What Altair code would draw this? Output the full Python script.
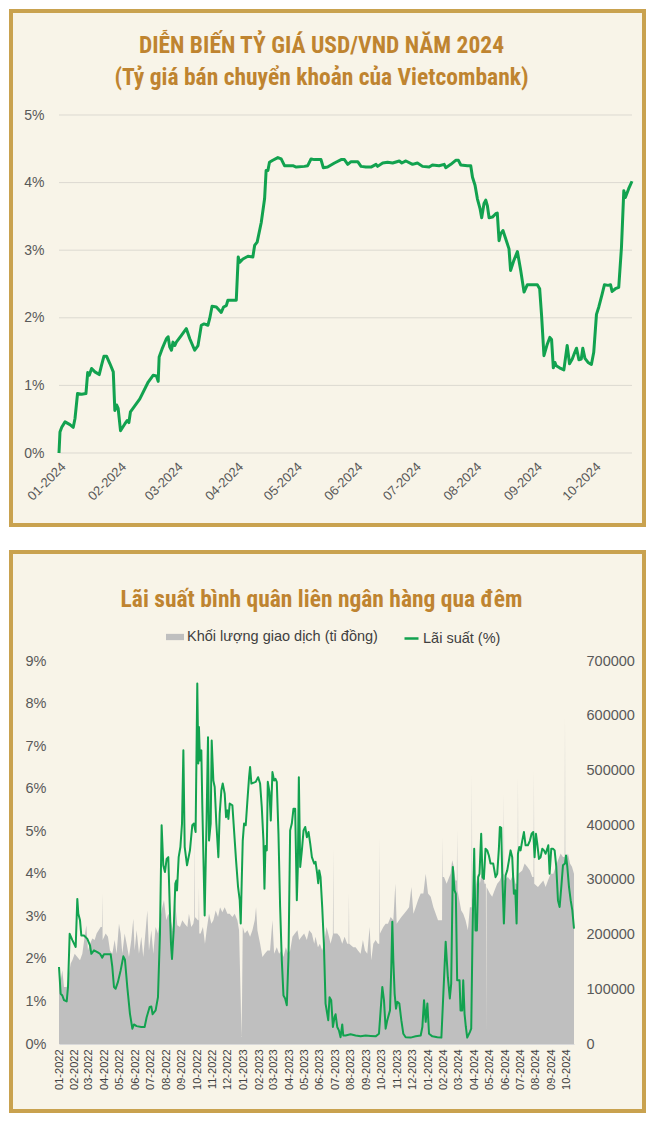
import altair as alt
import pandas as pd

# ---------------- Panel 1: USD/VND change in 2024 (day offset from 2024-01-01, % change)
fx_points = [
    (0.0, 0.00), (0.5, 0.31), (1.4, 0.38), (3.1, 0.46), (5.6, 0.42), (7.3, 0.38), (8.2, 0.51),
    (9.5, 0.88), (11.6, 0.87), (13.8, 0.88), (14.7, 1.19), (15.5, 1.15), (16.7, 1.25), (18.4, 1.20),
    (20.6, 1.16), (21.8, 1.30), (23.0, 1.43), (24.4, 1.43), (26.1, 1.32), (27.8, 1.20), (28.6, 0.63),
    (29.5, 0.71), (30.3, 0.66), (31.5, 0.33), (33.7, 0.43), (34.9, 0.48), (35.8, 0.45), (36.6, 0.61),
    (41.4, 0.80), (45.7, 1.05), (48.2, 1.15), (49.9, 1.14), (50.8, 1.06), (51.3, 1.42), (52.8, 1.54),
    (55.0, 1.69), (55.9, 1.72), (56.7, 1.57), (57.6, 1.52), (58.4, 1.64), (59.3, 1.59), (60.1, 1.64),
    (62.7, 1.74), (65.2, 1.84), (67.0, 1.69), (69.5, 1.52), (71.2, 1.59), (72.9, 1.89), (74.3, 1.91),
    (76.3, 1.89), (77.2, 1.99), (78.4, 2.17), (80.6, 2.16), (83.1, 2.08), (84.3, 2.16), (85.7, 2.18),
    (86.5, 2.26), (90.8, 2.26), (91.8, 2.90), (92.5, 2.82), (94.2, 2.87), (96.8, 2.91), (99.3, 2.90),
    (100.2, 3.07), (101.5, 3.12), (103.6, 3.41), (105.3, 3.76), (106.1, 4.18), (107.0, 4.18),
    (107.8, 4.30), (109.5, 4.33), (112.1, 4.37), (113.8, 4.35), (115.5, 4.25), (119.8, 4.25),
    (121.5, 4.23), (125.7, 4.24), (127.4, 4.25), (129.1, 4.35), (130.8, 4.34), (134.2, 4.34),
    (135.4, 4.22), (137.6, 4.23), (141.1, 4.29), (144.5, 4.34), (146.2, 4.34), (147.9, 4.27),
    (149.6, 4.31), (153.0, 4.31), (154.7, 4.24), (157.2, 4.23), (159.8, 4.23), (162.4, 4.27),
    (163.2, 4.24), (165.8, 4.29), (168.3, 4.30), (170.9, 4.29), (174.3, 4.32), (175.6, 4.29),
    (177.7, 4.32), (181.1, 4.27), (183.6, 4.29), (186.2, 4.24), (189.6, 4.23), (191.3, 4.26),
    (194.7, 4.25), (197.3, 4.27), (198.1, 4.22), (200.7, 4.27), (203.2, 4.33), (204.6, 4.33),
    (205.8, 4.26), (209.2, 4.25), (210.9, 4.25), (211.8, 4.08), (213.1, 3.96), (214.3, 3.76),
    (215.7, 3.61), (216.5, 3.48), (217.7, 3.69), (218.6, 3.74), (219.4, 3.66), (220.3, 3.48),
    (222.0, 3.49), (223.7, 3.54), (224.5, 3.55), (225.4, 3.14), (226.2, 3.24), (227.4, 3.29),
    (228.8, 3.17), (230.5, 3.02), (231.3, 2.70), (233.0, 2.85), (234.8, 2.98), (236.5, 2.70),
    (238.2, 2.38), (239.9, 2.49), (242.4, 2.49), (245.0, 2.49), (246.2, 2.43), (247.2, 2.03),
    (248.4, 1.44), (250.1, 1.61), (251.4, 1.71), (252.3, 1.68), (253.2, 1.26), (254.0, 1.34),
    (254.7, 1.29), (256.4, 1.26), (258.6, 1.23), (260.3, 1.59), (261.5, 1.32), (262.9, 1.39),
    (264.2, 1.49), (265.1, 1.55), (266.3, 1.38), (267.5, 1.39), (268.3, 1.55), (269.4, 1.40),
    (271.0, 1.34), (272.7, 1.31), (273.9, 1.49), (275.3, 2.05), (276.5, 2.16), (278.2, 2.35),
    (279.4, 2.49), (281.3, 2.48), (282.5, 2.49), (283.3, 2.39), (285.0, 2.43), (286.7, 2.45),
    (288.1, 3.04), (289.3, 3.88), (290.1, 3.78), (291.8, 3.91), (293.5, 4.02),
]
fx_y_ticks = [0, 1, 2, 3, 4, 5]

# ---------------- Panel 2: overnight interbank rate, % (day offset from 2022-01-01)
rate_points = [
    (0, 1.81), (3.3, 1.18), (6.6, 1.14), (9.9, 1.03), (15.2, 1.00), (17.8, 1.34), (21.1, 2.59),
    (26.4, 2.44), (33.0, 2.28), (36.2, 3.41), (38.2, 3.06), (41.5, 2.91), (44.1, 2.55), (49.4, 2.55),
    (56.0, 2.47), (61.3, 2.32), (63.9, 2.12), (69.2, 2.20), (75.8, 2.16), (81.0, 2.12), (85.6, 2.03),
    (88.9, 2.11), (102.1, 2.11), (105.4, 1.81), (108.7, 1.34), (112.0, 1.30), (116.6, 1.46),
    (121.9, 1.73), (127.2, 2.06), (130.4, 1.98), (135.0, 1.34), (140.3, 0.71), (145.0, 0.36),
    (148.2, 0.46), (153.5, 0.42), (162.7, 0.40), (169.3, 0.40), (173.3, 0.63), (179.2, 0.87),
    (182.5, 0.88), (185.1, 0.70), (191.0, 0.79), (195.7, 1.10), (199.6, 2.59), (202.9, 5.14),
    (206.2, 4.20), (209.5, 4.04), (212.8, 4.35), (216.1, 4.39), (218.8, 3.30), (221.4, 2.36),
    (223.4, 2.00), (226.7, 2.67), (230.0, 3.77), (232.0, 3.84), (233.3, 3.61), (236.6, 4.39),
    (240.0, 4.63), (243.2, 5.18), (245.9, 6.90), (248.5, 4.63), (253.1, 4.20), (258.9, 4.55),
    (263.5, 5.14), (266.8, 5.18), (270.1, 4.98), (273.4, 8.47), (275.4, 6.59), (276.7, 7.45),
    (278.7, 6.66), (281.4, 6.90), (283.4, 5.57), (288.0, 3.02), (291.9, 5.33), (294.6, 7.21),
    (296.6, 4.78), (299.9, 5.18), (301.9, 7.13), (305.2, 6.19), (307.8, 6.04), (311.1, 5.18),
    (315.1, 4.39), (317.7, 5.41), (321.0, 5.96), (323.7, 6.12), (327.6, 5.88), (330.3, 5.33),
    (332.9, 5.49), (334.9, 5.29), (337.5, 5.65), (342.8, 5.61), (346.1, 5.02), (350.1, 4.31),
    (354.0, 3.69), (357.3, 3.38), (359.3, 2.83), (361.3, 3.84), (363.3, 4.78), (365.9, 5.18),
    (369.2, 5.14), (372.5, 5.72), (375.8, 6.27), (377.8, 6.51), (380.4, 6.12), (389.0, 6.16),
    (393.6, 6.27), (397.6, 6.12), (400.9, 5.57), (404.2, 4.78), (406.2, 3.65), (408.2, 4.65),
    (410.8, 4.55), (412.8, 6.16), (416.1, 5.92), (418.7, 5.25), (422.0, 6.39), (425.3, 6.19),
    (428.0, 6.23), (430.6, 6.16), (433.9, 4.94), (437.2, 3.22), (440.5, 1.97), (443.8, 1.14),
    (447.1, 1.07), (450.4, 0.91), (453.7, 2.04), (457.0, 5.02), (460.3, 5.18), (463.6, 5.53),
    (466.9, 5.53), (470.2, 3.38), (472.2, 4.16), (474.2, 6.27), (476.9, 4.16), (480.2, 4.55),
    (483.5, 5.02), (486.8, 5.10), (490.1, 4.86), (493.4, 4.98), (496.7, 4.71), (500.0, 4.39),
    (504.6, 4.24), (507.2, 4.28), (510.5, 4.00), (512.5, 3.78), (514.5, 4.08), (517.1, 3.92),
    (520.4, 3.22), (523.7, 2.36), (527.0, 0.95), (530.3, 0.71), (532.3, 0.56), (534.9, 1.10),
    (538.2, 1.03), (541.5, 0.40), (544.8, 0.63), (546.8, 0.70), (550.1, 0.40), (553.4, 0.32),
    (556.7, 0.16), (560.0, 0.46), (562.0, 0.20), (566.6, 0.20), (576.5, 0.23), (586.4, 0.20),
    (596.3, 0.18), (606.2, 0.20), (616.1, 0.19), (626.0, 0.18), (632.6, 0.24), (635.9, 0.79),
    (639.2, 1.34), (642.5, 1.03), (645.8, 0.36), (649.1, 0.56), (654.4, 0.79), (657.0, 1.81),
    (659.0, 2.87), (661.0, 1.97), (663.6, 1.18), (666.3, 0.83), (668.9, 0.99), (672.9, 0.95),
    (676.8, 0.56), (680.8, 0.24), (685.4, 0.16), (695.3, 0.15), (705.2, 0.18), (715.1, 0.20),
    (718.4, 0.40), (721.7, 1.03), (725.0, 0.52), (728.3, 0.95), (731.6, 0.24), (738.2, 0.18),
    (748.1, 0.16), (756.0, 0.15), (759.9, 1.18), (764.5, 2.40), (768.8, 1.57), (772.7, 1.07),
    (775.4, 1.42), (778.7, 4.16), (782.0, 3.61), (784.6, 3.53), (787.2, 1.50), (791.9, 1.50),
    (793.9, 0.79), (797.2, 0.79), (799.2, 1.50), (801.8, 0.71), (804.4, 0.40), (807.1, 0.15),
    (812.3, 0.28), (815.0, 0.36), (817.6, 2.59), (820.9, 4.59), (823.5, 2.67), (826.2, 2.67),
    (828.8, 3.92), (831.4, 4.00), (834.7, 4.94), (837.4, 3.92), (840.0, 3.88), (843.3, 4.59),
    (846.6, 4.55), (849.9, 4.43), (853.2, 4.24), (858.5, 4.24), (863.1, 3.92), (866.4, 4.00),
    (869.7, 4.59), (871.6, 5.10), (874.3, 5.08), (876.3, 4.00), (879.6, 2.83), (882.9, 3.96),
    (886.2, 4.08), (889.5, 4.31), (892.8, 4.55), (896.1, 4.39), (899.4, 3.53), (902.1, 3.61),
    (904.7, 2.83), (907.4, 4.47), (910.0, 4.63), (912.6, 4.55), (915.9, 4.78), (919.2, 4.98),
    (922.5, 4.67), (927.1, 4.67), (931.1, 4.78), (934.4, 4.94), (937.7, 4.98), (940.3, 4.39),
    (943.0, 4.94), (945.6, 4.71), (948.9, 4.35), (952.2, 4.39), (955.5, 4.59), (958.8, 4.55),
    (962.1, 4.47), (965.4, 4.59), (967.4, 4.67), (970.0, 4.00), (973.3, 4.59), (976.6, 4.59),
    (979.9, 4.55), (983.2, 4.16), (986.5, 3.38), (989.8, 3.22), (993.1, 3.69), (996.4, 4.20),
    (1000.4, 4.24), (1002.4, 4.43), (1005.0, 4.16), (1008.3, 3.69), (1011.6, 3.38), (1014.9, 3.14),
    (1018.2, 2.71),
]

# trading volume, billion VND (day offset from 2022-01-01)
vol_points = [
    (0, 141000), (3.3, 116000), (6.6, 135000), (9.9, 104000), (15.2, 104000), (19.8, 129000),
    (23.1, 147000), (26.4, 153000), (31.0, 165000), (36.2, 159000), (41.5, 153000), (46.1, 165000),
    (50.7, 196000), (54.0, 217000), (57.3, 171000), (61.3, 183000), (65.9, 193000), (70.5, 190000),
    (74.4, 202000), (78.4, 208000), (82.3, 214000), (84.9, 214000), (85.6, 275000), (86.3, 190000),
    (92.2, 202000), (96.8, 196000), (100.8, 171000), (105.4, 165000), (110.0, 190000),
    (113.9, 165000), (118.6, 220000), (121.9, 202000), (125.2, 165000), (129.8, 202000),
    (133.7, 183000), (138.3, 159000), (142.9, 190000), (146.9, 229000), (149.5, 171000),
    (153.5, 208000), (158.1, 165000), (162.7, 196000), (166.6, 159000), (171.3, 208000),
    (174.6, 244000), (177.9, 171000), (182.5, 208000), (186.4, 165000), (191.0, 214000),
    (195.7, 202000), (199.6, 226000), (204.2, 250000), (207.5, 263000), (212.1, 226000),
    (216.1, 238000), (220.7, 226000), (225.4, 208000), (229.3, 263000), (233.9, 217000),
    (239.2, 214000), (243.8, 226000), (248.5, 220000), (253.8, 214000), (256.9, 238000),
    (261.5, 214000), (265.5, 220000), (267.4, 230000), (268.1, 385000), (268.8, 232000),
    (274.7, 226000), (276.0, 226000), (276.7, 287000), (277.4, 202000), (280.0, 202000),
    (284.6, 214000), (288.6, 183000), (291.9, 208000), (296.6, 238000), (301.2, 220000),
    (305.2, 226000), (309.8, 244000), (314.4, 232000), (318.4, 250000), (323.0, 241000),
    (327.6, 250000), (332.9, 238000), (337.5, 238000), (342.8, 232000), (347.4, 238000),
    (352.7, 226000), (356.0, 208000), (359.3, 80000), (360.6, 13000), (361.9, 80000),
    (363.3, 214000), (367.2, 202000), (372.5, 208000), (377.8, 196000), (382.4, 208000),
    (387.0, 226000), (389.6, 250000), (392.3, 208000), (397.6, 183000), (402.2, 159000),
    (406.8, 165000), (412.1, 171000), (417.3, 171000), (422.0, 226000), (425.3, 165000),
    (430.6, 177000), (435.2, 165000), (439.8, 171000), (443.8, 159000), (448.4, 177000),
    (453.0, 165000), (457.0, 171000), (461.6, 196000), (466.3, 202000), (471.5, 208000),
    (474.8, 190000), (479.4, 196000), (484.7, 202000), (490.0, 190000), (494.6, 208000),
    (499.9, 202000), (504.6, 183000), (507.2, 196000), (511.9, 177000), (515.8, 183000),
    (520.4, 171000), (523.7, 183000), (529.0, 214000), (532.3, 202000), (536.9, 183000),
    (541.5, 200000), (542.2, 357000), (542.9, 202000), (550.1, 202000), (555.4, 196000),
    (560.0, 183000), (564.6, 196000), (569.9, 183000), (572.5, 183000), (573.2, 275000),
    (573.9, 183000), (581.8, 177000), (586.4, 177000), (591.0, 171000), (596.3, 165000),
    (600.9, 190000), (604.9, 171000), (609.5, 165000), (614.1, 214000), (617.4, 153000),
    (621.4, 183000), (626.0, 190000), (630.6, 183000), (633.2, 183000), (633.9, 378000),
    (634.6, 202000), (641.2, 214000), (645.8, 220000), (650.4, 220000), (655.7, 232000),
    (661.0, 226000), (665.0, 293000), (667.6, 220000), (672.3, 226000), (676.9, 232000),
    (682.2, 238000), (687.4, 244000), (692.1, 250000), (696.7, 287000), (700.7, 238000),
    (705.2, 250000), (709.9, 263000), (715.1, 275000), (720.4, 275000), (725.0, 311000),
    (729.6, 275000), (734.9, 269000), (740.2, 250000), (744.8, 238000), (749.4, 226000),
    (754.7, 226000), (757.3, 226000), (758.0, 378000), (758.7, 305000), (761.2, 305000),
    (766.5, 293000), (768.8, 299000), (774.1, 311000), (777.4, 336000), (780.6, 324000),
    (783.9, 299000), (786.5, 299000), (787.2, 391000), (787.9, 281000), (795.2, 244000),
    (799.2, 238000), (803.8, 226000), (808.4, 208000), (812.3, 250000), (815.6, 250000),
    (816.3, 494000), (817.0, 263000), (823.5, 287000), (828.2, 311000), (832.1, 293000),
    (836.7, 317000), (841.4, 293000), (844.0, 293000), (844.7, 19000), (845.4, 287000),
    (851.9, 275000), (856.5, 269000), (861.2, 281000), (866.4, 293000), (871.6, 299000),
    (876.3, 311000), (878.9, 311000), (879.6, 458000), (880.3, 299000), (887.5, 305000),
    (892.8, 299000), (898.1, 311000), (902.7, 293000), (906.7, 293000), (907.4, 488000),
    (908.1, 311000), (915.9, 317000), (920.6, 330000), (925.8, 324000), (931.1, 317000),
    (935.7, 305000), (938.3, 305000), (939.0, 500000), (939.7, 293000), (946.9, 287000),
    (952.2, 293000), (957.5, 299000), (962.1, 287000), (966.7, 299000), (972.0, 311000),
    (977.3, 311000), (981.9, 324000), (986.5, 336000), (991.8, 348000), (996.4, 342000),
    (999.7, 342000), (1000.4, 598000), (1001.1, 336000), (1006.3, 348000), (1010.3, 330000),
    (1014.2, 324000), (1018.2, 311000),
]

rate_ticks = [0, 1, 2, 3, 4, 5, 6, 7, 8, 9]
vol_ticks = [0, 100000, 200000, 300000, 400000, 500000, 600000, 700000]

TITLE1 = "DIỄN BIẾN TỶ GIÁ USD/VND NĂM 2024"
SUBTITLE1 = "(Tỷ giá bán chuyển khoản của Vietcombank)"
TITLE2 = "Lãi suất bình quân liên ngân hàng qua đêm"
LEG_VOL = "Khối lượng giao dịch (tỉ đồng)"
LEG_RATE = "Lãi suất (%)"

# ---------------- styles
CREAM = "#f8f4e8"
GOLD = "#c9a24f"
TCOL = "#bf8430"
GREEN = "#12a24f"
GRAY = "#bfbfbf"
LAB = "#595959"
FONT = "Liberation Sans, Arial, sans-serif"
TFONT = "Liberation Sans Narrow, Arial Narrow, Roboto Condensed, DejaVu Sans Condensed, sans-serif"


def to_dates(start, days):
    return pd.Timestamp(start) + pd.to_timedelta(list(days), unit="D")


df1 = pd.DataFrame({"date": to_dates("2024-01-01", [p[0] for p in fx_points]),
                    "pct": [p[1] for p in fx_points]})
df_rate = pd.DataFrame({"date": to_dates("2022-01-01", [p[0] for p in rate_points]),
                        "rate": [p[1] for p in rate_points]})
df_rate["s"] = LEG_RATE
df_vol = pd.DataFrame({"date": to_dates("2022-01-01", [p[0] for p in vol_points]),
                       "vol": [p[1] for p in vol_points]})
df_vol["s"] = LEG_VOL
grid_df = pd.DataFrame({"pct": fx_y_ticks})
one = pd.DataFrame({"k": [0]})


def frame(x1, x2, y1, y2):
    return alt.Chart(one).mark_rect(fill=CREAM, stroke=GOLD, strokeWidth=4).encode(
        x=alt.value(x1), x2=alt.value(x2), y=alt.value(y1), y2=alt.value(y2))


# ---------------- Panel 1
W1, H1 = 573, 338
x1_scale = alt.Scale(domain=[alt.DateTime(year=2024, month=1, date=1),
                             alt.DateTime(year=2024, month=10, date=20, hours=12)])
y1_scale = alt.Scale(domain=[0, 5])
y1_axis = alt.Axis(title=None, values=fx_y_ticks, labelExpr="datum.value + '%'",
                   grid=False, domain=False, ticks=False, labelPadding=15,
                   labelFontSize=14, labelColor=LAB, labelFont=FONT, zindex=1)

grid1 = alt.Chart(grid_df).mark_rule(color="#dcd9d1", strokeWidth=1).encode(
    y=alt.Y("pct:Q", scale=y1_scale, axis=y1_axis))

line1 = alt.Chart(df1).mark_line(color=GREEN, strokeWidth=3, strokeJoin="round").encode(
    x=alt.X("date:T", scale=x1_scale,
            axis=alt.Axis(title=None, format="%m-%Y", tickCount={"interval": "month", "step": 1},
                          labelAngle=-45, labelFontSize=13, labelColor=LAB, labelFont=FONT,
                          grid=False, domain=False, ticks=False, labelPadding=7,
                          labelOverlap=False, zindex=1)),
    y=alt.Y("pct:Q", scale=y1_scale, axis=y1_axis),
)

p1 = alt.layer(frame(-48, 585, -104, 410), grid1, line1).properties(
    width=W1, height=H1,
    title=alt.TitleParams(text=TITLE1, subtitle=SUBTITLE1, anchor="middle", frame="bounds",
                          offset=-80, dx=-6, font=TFONT, fontSize=23.5, fontWeight="bold", color=TCOL,
                          subtitleFont=TFONT, subtitleFontSize=23.5, subtitleFontWeight="bold",
                          subtitleColor=TCOL, subtitlePadding=8))

# ---------------- Panel 2
W2, H2 = 515, 383
x2_scale = alt.Scale(domain=[alt.DateTime(year=2022, month=1, date=1),
                             alt.DateTime(year=2024, month=10, date=15, hours=5)])
x2_axis = alt.Axis(title=None, format="%m-%Y", tickCount={"interval": "month", "step": 1},
                   labelAngle=-90, labelFontSize=11, labelColor="#404040", labelFont=FONT,
                   grid=False, domain=True, domainColor="#d9d9d9", ticks=False, labelPadding=5,
                   labelOverlap=False, zindex=1)

area2 = alt.Chart(df_vol).mark_area(opacity=1, interpolate="linear").encode(
    x=alt.X("date:T", scale=x2_scale, axis=x2_axis),
    y=alt.Y("vol:Q", scale=alt.Scale(domain=[0, 700000]),
            axis=alt.Axis(title=None, orient="right", values=vol_ticks, format="d", grid=False,
                          domain=False, ticks=False, labelPadding=12, labelFontSize=14.5,
                          labelColor=LAB, labelFont=FONT, zindex=1)),
    fill=alt.Fill("s:N", scale=alt.Scale(domain=[LEG_VOL], range=[GRAY]),
                  legend=alt.Legend(title=None, orient="none", legendX=107, legendY=-33,
                                    symbolType="M-1,-0.35H1V0.35H-1Z", symbolSize=324,
                                    symbolStrokeWidth=0, labelFontSize=14.5, labelColor="#404040",
                                    labelFont=FONT, labelOffset=3, labelLimit=400, padding=0)),
)

line2 = alt.Chart(df_rate).mark_line(strokeWidth=2, strokeJoin="round").encode(
    x=alt.X("date:T", scale=x2_scale, axis=x2_axis),
    y=alt.Y("rate:Q", scale=alt.Scale(domain=[0, 9]),
            axis=alt.Axis(title=None, orient="left", values=rate_ticks, labelExpr="datum.value + '%'",
                          grid=False, domain=False, ticks=False, labelPadding=13, labelFontSize=14.5,
                          labelColor=LAB, labelFont=FONT, zindex=1)),
    stroke=alt.Stroke("s:N", scale=alt.Scale(domain=[LEG_RATE], range=[GREEN]),
                      legend=alt.Legend(title=None, orient="none", legendX=344, legendY=-31,
                                        symbolType="stroke", symbolSize=196, symbolStrokeWidth=2.5,
                                        labelFontSize=14.5, labelColor="#404040", labelFont=FONT,
                                        labelOffset=3, labelLimit=400, padding=0)),
)

p2 = alt.layer(frame(-48, 585, -109, 450), area2, line2).resolve_scale(
    y="independent", fill="independent", stroke="independent").properties(
    width=W2, height=H2,
    title=alt.TitleParams(text=TITLE2, anchor="middle", frame="bounds", offset=-61, dx=-6,
                          font=TFONT, fontSize=23.5, fontWeight="bold", color=TCOL))

chart = alt.vconcat(p1, p2, spacing=21).properties(padding=0, background="white").configure_view(
    stroke="transparent")

chart.save("out.html", embed_options={"renderer": "svg", "actions": False})
